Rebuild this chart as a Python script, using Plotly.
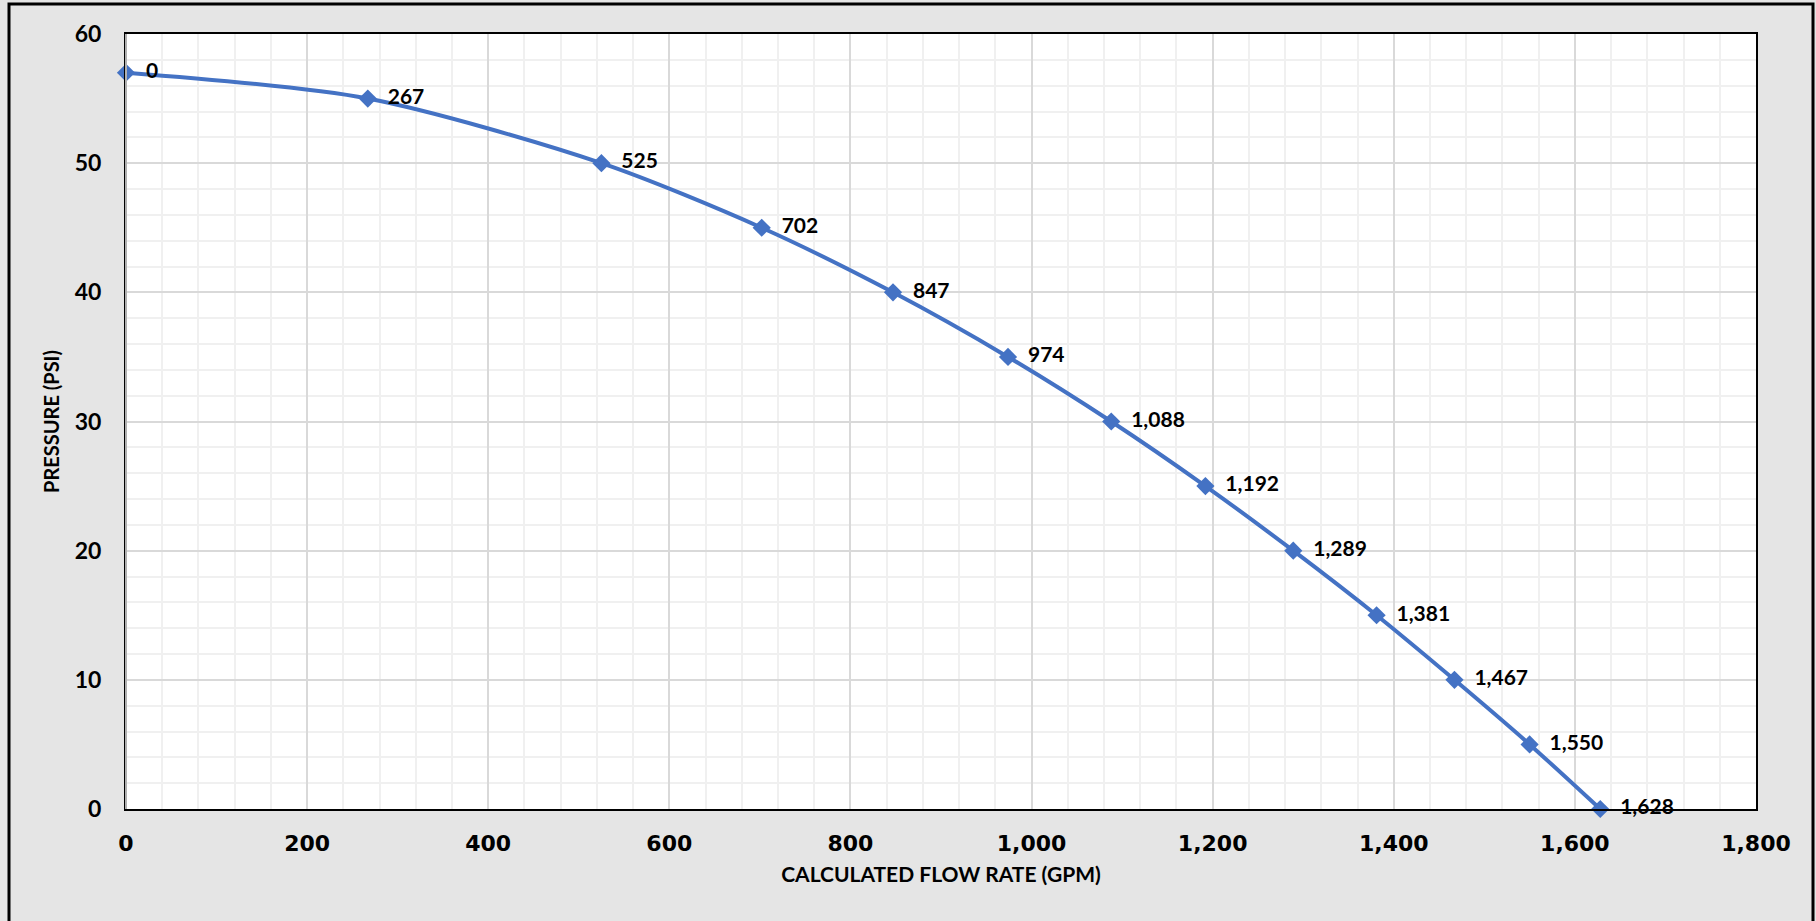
import plotly.graph_objects as go

flow_gpm = [0, 267, 525, 702, 847, 974, 1088, 1192, 1289, 1381, 1467, 1550, 1628]
pressure_psi = [57, 55, 50, 45, 40, 35, 30, 25, 20, 15, 10, 5, 0]
labels = [f"{v:,}" for v in flow_gpm]

x_title = "CALCULATED FLOW RATE (GPM)"
y_title = "PRESSURE (PSI)"

W, H = 1816, 921
L, R, T, B = 126, 60, 34, 112
pw, ph = W - L - R, H - T - B

def px_x(p):
    return (p - L) / pw

def px_y(p):
    return (H - B - p) / ph

blue = "#4472C4"
bg = "#e5e5e5"

fig = go.Figure()
fig.add_trace(go.Scatter(
    x=flow_gpm, y=pressure_psi, mode="lines+markers+text",
    line=dict(color=blue, width=4, shape="spline", smoothing=0.8),
    marker=dict(symbol="diamond", size=14, color=blue),
    text=["  " + t for t in labels], textposition="middle right",
    textfont=dict(family="Lato", size=21, color="black", weight="bold"),
    cliponaxis=False, showlegend=False, hoverinfo="skip",
))

fig.update_layout(
    width=W, height=H,
    margin=dict(l=L, r=R, t=T, b=B),
    paper_bgcolor=bg, plot_bgcolor="white",
    xaxis=dict(
        range=[0, 1800], dtick=200, tickformat=",", automargin=False,
        showgrid=True, gridcolor="#d9d9d9", gridwidth=1.5,
        minor=dict(dtick=40, showgrid=True, gridcolor="#f0f0f0", gridwidth=1.5),
        showline=True, linecolor="black", linewidth=2, mirror=True,
        zeroline=False, ticks="",
        tickfont=dict(family="DejaVu Sans", size=22, color="black", weight="bold"),
        ticklabelstandoff=14,
        title=dict(text=x_title, standoff=12,
                   font=dict(family="Lato", size=21, color="black", weight="bold")),
    ),
    yaxis=dict(
        range=[0, 60], dtick=10, automargin=False,
        showgrid=True, gridcolor="#d9d9d9", gridwidth=1.5,
        minor=dict(dtick=2, showgrid=True, gridcolor="#f0f0f0", gridwidth=1.5),
        showline=True, linecolor="black", linewidth=2, mirror=True,
        zeroline=False, ticks="",
        tickfont=dict(family="Lato", size=23, color="black", weight="bold"),
        ticklabelstandoff=18,
        title=dict(text=y_title, standoff=10,
                   font=dict(family="Lato", size=20, color="black", weight="bold")),
    ),
    shapes=[
        dict(type="line", xref="paper", yref="paper", x0=0, x1=0, y0=0, y1=1,
             line=dict(color="#b0b0b0", width=2)),
        dict(type="rect", xref="paper", yref="paper",
             x0=px_x(9), x1=px_x(1813), y0=px_y(960), y1=px_y(4),
             line=dict(color="black", width=3), layer="above"),
    ],
)

fig.write_html(
    "out.html",
    config={"displayModeBar": False},
    post_script=f"document.body.style.margin='0';document.body.style.background='{bg}';",
)
